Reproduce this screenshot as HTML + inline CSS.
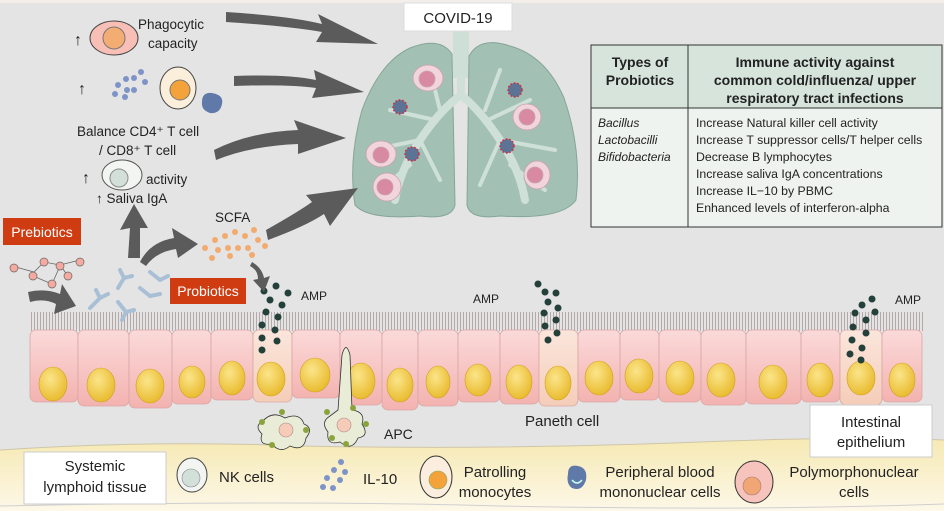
<!DOCTYPE html>
<html><head><meta charset="utf-8"><style>
body{margin:0;background:#fff}
svg{display:block}
text{font-family:"Liberation Sans",sans-serif;fill:#222}
</style></head><body>
<svg width="944" height="511" viewBox="0 0 944 511" xmlns="http://www.w3.org/2000/svg">
<defs>
<radialGradient id="nuc" cx="0.4" cy="0.35" r="0.7"><stop offset="0" stop-color="#fbe58a"/><stop offset="1" stop-color="#e8b92a"/></radialGradient>
<linearGradient id="cell" x1="0" y1="0" x2="0" y2="1"><stop offset="0" stop-color="#fbdada"/><stop offset="1" stop-color="#f3b3b0"/></linearGradient>
<linearGradient id="pan" x1="0" y1="0" x2="0" y2="1"><stop offset="0" stop-color="#fbe6dc"/><stop offset="1" stop-color="#f5cdb9"/></linearGradient>
<linearGradient id="band" x1="0" y1="0" x2="0" y2="1"><stop offset="0" stop-color="#f6e9b3"/><stop offset="1" stop-color="#fdf8e8"/></linearGradient>
<pattern id="villi" width="3" height="18" patternUnits="userSpaceOnUse"><line x1="1.5" y1="0" x2="1.5" y2="18" stroke="#a89898" stroke-width="0.8"/></pattern>
</defs>
<rect width="944" height="511" fill="#e4e4e4"/>
<rect x="0" y="0" width="944" height="3" fill="#f4eeea"/>

<path d="M0 450 Q150 440 300 446 Q500 450 700 442 Q850 436 944 440 L944 511 L0 511 Z" fill="url(#band)"/>
<path d="M0 450 Q150 440 300 446 Q500 450 700 442 Q850 436 944 440" fill="none" stroke="#cfc6a8" stroke-width="1"/>
<path d="M0 506 Q300 500 500 506 Q750 511 944 504" fill="none" stroke="#cfcfcf" stroke-width="1"/>

<rect x="30" y="312" width="895" height="19" fill="url(#villi)"/>

<g stroke="#d9a6a6" stroke-width="0.8">
<rect x="30" y="330" width="48" height="72" rx="6" fill="url(#cell)"/>
<rect x="78" y="330" width="51" height="76" rx="6" fill="url(#cell)"/>
<rect x="129" y="330" width="43" height="78" rx="6" fill="url(#cell)"/>
<rect x="172" y="330" width="39" height="74" rx="6" fill="url(#cell)"/>
<rect x="211" y="330" width="42" height="70" rx="6" fill="url(#cell)"/>
<rect x="253" y="330" width="39" height="72" rx="6" fill="url(#pan)"/>
<rect x="292" y="330" width="48" height="68" rx="6" fill="url(#cell)"/>
<rect x="340" y="330" width="42" height="75" rx="6" fill="url(#cell)"/>
<rect x="382" y="330" width="36" height="80" rx="6" fill="url(#cell)"/>
<rect x="418" y="330" width="40" height="76" rx="6" fill="url(#cell)"/>
<rect x="458" y="330" width="42" height="72" rx="6" fill="url(#cell)"/>
<rect x="500" y="330" width="39" height="74" rx="6" fill="url(#cell)"/>
<rect x="539" y="330" width="39" height="76" rx="6" fill="url(#pan)"/>
<rect x="578" y="330" width="42" height="72" rx="6" fill="url(#cell)"/>
<rect x="620" y="330" width="39" height="70" rx="6" fill="url(#cell)"/>
<rect x="659" y="330" width="42" height="72" rx="6" fill="url(#cell)"/>
<rect x="701" y="330" width="45" height="75" rx="6" fill="url(#cell)"/>
<rect x="746" y="330" width="55" height="74" rx="6" fill="url(#cell)"/>
<rect x="801" y="330" width="39" height="72" rx="6" fill="url(#cell)"/>
<rect x="840" y="330" width="42" height="75" rx="6" fill="url(#pan)"/>
<rect x="882" y="330" width="40" height="72" rx="6" fill="url(#cell)"/>
</g>
<g fill="url(#nuc)" stroke="#d0a020" stroke-width="0.6">
<ellipse cx="53" cy="384" rx="14" ry="17"/><ellipse cx="101" cy="385" rx="14" ry="17"/>
<ellipse cx="150" cy="386" rx="14" ry="17"/><ellipse cx="192" cy="382" rx="13" ry="16"/>
<ellipse cx="232" cy="378" rx="13" ry="17"/><ellipse cx="271" cy="379" rx="14" ry="17"/>
<ellipse cx="315" cy="375" rx="15" ry="17"/><ellipse cx="361" cy="381" rx="14" ry="18"/>
<ellipse cx="400" cy="385" rx="13" ry="17"/><ellipse cx="438" cy="382" rx="12" ry="16"/>
<ellipse cx="478" cy="380" rx="13" ry="16"/><ellipse cx="519" cy="382" rx="13" ry="17"/>
<ellipse cx="558" cy="383" rx="13" ry="17"/><ellipse cx="599" cy="378" rx="14" ry="17"/>
<ellipse cx="639" cy="376" rx="14" ry="17"/><ellipse cx="680" cy="378" rx="14" ry="17"/>
<ellipse cx="721" cy="380" rx="14" ry="17"/><ellipse cx="773" cy="382" rx="14" ry="17"/>
<ellipse cx="820" cy="380" rx="13" ry="17"/><ellipse cx="861" cy="378" rx="14" ry="17"/>
<ellipse cx="902" cy="380" rx="13" ry="17"/>
</g>

<g fill="#24403a">
<circle cx="264" cy="291" r="3.5"/><circle cx="276" cy="286" r="3.5"/><circle cx="288" cy="293" r="3.5"/><circle cx="270" cy="300" r="3.5"/><circle cx="282" cy="305" r="3.5"/><circle cx="266" cy="312" r="3.5"/><circle cx="278" cy="317" r="3.5"/><circle cx="262" cy="325" r="3.5"/><circle cx="275" cy="330" r="3.5"/><circle cx="262" cy="338" r="3.5"/><circle cx="277" cy="341" r="3.5"/><circle cx="262" cy="350" r="3.5"/>
<circle cx="538" cy="284" r="3.5"/><circle cx="545" cy="292" r="3.5"/><circle cx="556" cy="293" r="3.5"/><circle cx="548" cy="302" r="3.5"/><circle cx="558" cy="308" r="3.5"/><circle cx="544" cy="313" r="3.5"/><circle cx="556" cy="320" r="3.5"/><circle cx="545" cy="326" r="3.5"/><circle cx="557" cy="333" r="3.5"/><circle cx="548" cy="340" r="3.5"/>
<circle cx="872" cy="299" r="3.5"/><circle cx="862" cy="305" r="3.5"/><circle cx="875" cy="312" r="3.5"/><circle cx="855" cy="313" r="3.5"/><circle cx="866" cy="320" r="3.5"/><circle cx="853" cy="327" r="3.5"/><circle cx="866" cy="333" r="3.5"/><circle cx="852" cy="340" r="3.5"/><circle cx="862" cy="348" r="3.5"/><circle cx="850" cy="354" r="3.5"/><circle cx="861" cy="360" r="3.5"/>
</g>
<text x="301" y="300" font-size="12">AMP</text>
<text x="473" y="303" font-size="12">AMP</text>
<text x="895" y="304" font-size="12">AMP</text>

<g stroke="#333" stroke-width="0.8" fill="#e9edd8">
<path d="M262 422 Q272 410 285 418 Q300 412 304 424 Q314 428 306 438 Q304 452 290 446 Q280 454 272 444 Q258 446 262 434 Q254 426 262 422 Z"/>
<path d="M338 410 L342 355 Q346 340 350 355 L352 410 Q366 412 362 424 Q370 436 358 438 Q352 452 340 442 Q326 446 328 432 Q320 422 330 416 Z"/>
</g>
<circle cx="286" cy="430" r="7" fill="#f6cbb8" stroke="#a88" stroke-width="0.6"/>
<circle cx="344" cy="425" r="7" fill="#f6cbb8" stroke="#a88" stroke-width="0.6"/>
<g fill="#8aa33a"><circle cx="262" cy="422" r="3"/><circle cx="282" cy="412" r="3"/><circle cx="306" cy="430" r="3"/><circle cx="272" cy="445" r="3"/><circle cx="327" cy="412" r="3"/><circle cx="353" cy="408" r="3"/><circle cx="366" cy="424" r="3"/><circle cx="332" cy="438" r="3"/><circle cx="346" cy="444" r="3"/></g>
<text x="384" y="439" font-size="14">APC</text>
<text x="525" y="426" font-size="15">Paneth cell</text>

<rect x="810" y="405" width="122" height="52" fill="#fff" stroke="#ccc"/>
<text x="871" y="427" font-size="15" text-anchor="middle">Intestinal</text>
<text x="871" y="447" font-size="15" text-anchor="middle">epithelium</text>

<rect x="24" y="452" width="142" height="52" fill="#fff" stroke="#ccc"/>
<text x="95" y="471" font-size="15" text-anchor="middle">Systemic</text>
<text x="95" y="492" font-size="15" text-anchor="middle">lymphoid tissue</text>
<ellipse cx="192" cy="475" rx="15" ry="17" fill="#f2f5f1" stroke="#444" stroke-width="1"/>
<circle cx="191" cy="478" r="9" fill="#d3e0da" stroke="#888" stroke-width="0.6"/>
<text x="219" y="482" font-size="15">NK cells</text>
<g fill="#7e93c7"><circle cx="327" cy="478" r="3"/><circle cx="334" cy="470" r="3"/><circle cx="340" cy="480" r="3"/><circle cx="323" cy="487" r="3"/><circle cx="333" cy="488" r="3"/><circle cx="345" cy="472" r="3"/><circle cx="341" cy="462" r="3"/></g>
<text x="363" y="484" font-size="15">IL-10</text>
<ellipse cx="436" cy="477" rx="16" ry="21" fill="#fbeede" stroke="#333" stroke-width="1"/>
<circle cx="438" cy="480" r="9" fill="#f3a33a" stroke="#8a6" stroke-width="0.6"/>
<text x="495" y="477" font-size="15" text-anchor="middle">Patrolling</text>
<text x="495" y="497" font-size="15" text-anchor="middle">monocytes</text>
<path d="M568 474 Q568 464 578 466 Q588 468 586 480 Q582 492 572 488 Q566 484 568 474 Z" fill="#5f79a8"/>
<path d="M572 480 Q577 486 582 480" fill="none" stroke="#cfe" stroke-width="1.5"/>
<text x="660" y="477" font-size="15" text-anchor="middle">Peripheral blood</text>
<text x="660" y="497" font-size="15" text-anchor="middle">mononuclear cells</text>
<ellipse cx="754" cy="482" rx="19" ry="21" fill="#f7c4bd" stroke="#333" stroke-width="1"/>
<circle cx="752" cy="486" r="9" fill="#f1a774" stroke="#a77" stroke-width="0.6"/>
<text x="854" y="477" font-size="15" text-anchor="middle">Polymorphonuclear</text>
<text x="854" y="497" font-size="15" text-anchor="middle">cells</text>

<!-- lungs -->
<rect x="453" y="28" width="16" height="50" fill="#cddfd6"/>
<path d="M410 48 Q440 36 452 54 L455 205 Q452 220 420 216 Q368 220 355 205 Q348 160 362 110 Q380 62 410 48 Z" fill="#a2c1b4" stroke="#85a598"/>
<path d="M510 46 Q480 36 469 56 L467 205 Q470 220 500 216 Q562 220 576 200 Q582 150 564 98 Q546 56 510 46 Z" fill="#a2c1b4" stroke="#85a598"/>
<g stroke="#cfe0d8" fill="none" stroke-linecap="round">
<path d="M461 78 L461 95 Q440 110 420 140 Q400 170 395 200" stroke-width="8"/>
<path d="M461 95 Q480 110 500 140 Q520 170 525 200" stroke-width="8"/>
<path d="M435 120 L390 110 M420 140 L372 150 M410 165 L380 190 M440 110 L430 70 M420 140 L440 180 M488 120 L530 100 M500 140 L555 150 M510 165 L545 190 M485 110 L500 70 M500 140 L480 185" stroke-width="4"/>
</g>
<g stroke="#c9a2b0" stroke-width="0.8">
<ellipse cx="428" cy="78" rx="15" ry="13" fill="#f1d4dc"/><circle cx="427" cy="79" r="8" fill="#d98aa3"/>
<ellipse cx="381" cy="154" rx="15" ry="13" fill="#f1d4dc"/><circle cx="381" cy="155" r="8" fill="#d98aa3"/>
<ellipse cx="387" cy="187" rx="14" ry="14" fill="#f1d4dc"/><circle cx="385" cy="187" r="8" fill="#d98aa3"/>
<ellipse cx="527" cy="117" rx="14" ry="13" fill="#f1d4dc"/><circle cx="527" cy="117" r="8" fill="#d98aa3"/>
<ellipse cx="537" cy="175" rx="13" ry="14" fill="#f1d4dc"/><circle cx="535" cy="175" r="8" fill="#d98aa3"/>
</g>
<g fill="#5d7396" stroke="#d23" stroke-width="1.5" stroke-dasharray="1.5 2">
<circle cx="400" cy="107" r="7"/><circle cx="412" cy="154" r="7"/><circle cx="515" cy="90" r="7"/><circle cx="507" cy="146" r="7"/>
</g>
<rect x="404" y="3" width="108" height="28" fill="#fff" stroke="#ddd"/>
<text x="458" y="23" font-size="15" text-anchor="middle">COVID-19</text>

<!-- table -->
<rect x="591" y="45" width="351" height="182" fill="#eef3ef" stroke="#333"/>
<rect x="591" y="45" width="351" height="63" fill="#d6e4dc" stroke="#333"/>
<line x1="688" y1="45" x2="688" y2="227" stroke="#333"/>
<g font-size="14" font-weight="bold" text-anchor="middle">
<text x="640" y="67">Types of</text><text x="640" y="85">Probiotics</text>
<text x="815" y="67">Immune activity against</text><text x="815" y="85">common cold/influenza/ upper</text><text x="815" y="103">respiratory tract infections</text>
</g>
<g font-size="12" font-style="italic"><text x="598" y="127">Bacillus</text><text x="598" y="144">Lactobacilli</text><text x="598" y="161">Bifidobacteria</text></g>
<g font-size="12.3">
<text x="696" y="127">Increase Natural killer cell activity</text>
<text x="696" y="144">Increase T suppressor cells/T helper cells</text>
<text x="696" y="161">Decrease B lymphocytes</text>
<text x="696" y="178">Increase saliva IgA concentrations</text>
<text x="696" y="195">Increase IL−10 by PBMC</text>
<text x="696" y="212">Enhanced levels of interferon-alpha</text>
</g>

<g font-size="13.5">
<text x="74" y="45" font-size="16">↑</text>
<text x="138" y="29">Phagocytic</text><text x="148" y="48">capacity</text>
<text x="78" y="94" font-size="16">↑</text>
<text x="77" y="136">Balance CD4⁺ T cell</text>
<text x="99" y="155">/ CD8⁺ T cell</text>
<text x="82" y="183" font-size="16">↑</text>
<text x="146" y="184">activity</text>
<text x="96" y="203">↑ Saliva IgA</text>
<text x="215" y="222">SCFA</text>
</g>
<ellipse cx="114" cy="38" rx="24" ry="17" fill="#f7bfb6" stroke="#444"/>
<circle cx="114" cy="38" r="11" fill="#f3ad72" stroke="#777"/>
<ellipse cx="178" cy="88" rx="18" ry="21" fill="#fbefdc" stroke="#444"/>
<circle cx="180" cy="90" r="10" fill="#f3a33a" stroke="#777"/>
<path d="M202 102 Q202 92 212 93 Q224 95 222 104 Q220 114 210 113 Q201 110 202 102 Z" fill="#5f79a8"/>
<g fill="#7e93c7"><circle cx="118" cy="85" r="3"/><circle cx="126" cy="79" r="3"/><circle cx="134" cy="78" r="3"/><circle cx="141" cy="72" r="3"/><circle cx="145" cy="82" r="3"/><circle cx="127" cy="90" r="3"/><circle cx="134" cy="90" r="3"/><circle cx="115" cy="94" r="3"/><circle cx="125" cy="97" r="3"/></g>
<ellipse cx="122" cy="175" rx="20" ry="15" fill="#f2f5f1" stroke="#555"/>
<circle cx="119" cy="178" r="9" fill="#d3e0da" stroke="#888"/>
<g fill="#f2ab6e"><circle cx="215" cy="240" r="3"/><circle cx="225" cy="236" r="3"/><circle cx="235" cy="232" r="3"/><circle cx="245" cy="236" r="3"/><circle cx="254" cy="230" r="3"/><circle cx="205" cy="248" r="3"/><circle cx="218" cy="250" r="3"/><circle cx="228" cy="248" r="3"/><circle cx="238" cy="248" r="3"/><circle cx="248" cy="248" r="3"/><circle cx="258" cy="240" r="3"/><circle cx="265" cy="246" r="3"/><circle cx="230" cy="256" r="3"/><circle cx="252" cy="255" r="3"/><circle cx="212" cy="258" r="3"/></g>

<!-- arrows -->
<g fill="#5b5b5b">
<path d="M226 12 Q290 16 322 24 L318 14 L378 44 L316 42 L322 32 Q288 26 226 22 Z"/>
<path d="M234 76 Q288 74 316 80 L314 70 L364 92 L312 98 L316 88 Q288 84 234 86 Z"/>
<path d="M214 150 Q250 132 298 130 L294 120 L346 138 L298 154 L298 144 Q250 146 216 160 Z"/>
<path d="M266 230 Q298 212 312 202 L306 195 L358 188 L330 226 L324 214 Q306 226 268 240 Z"/>
<path d="M128 258 L130 228 L120 230 L134 204 L148 228 L140 228 L140 258 Z"/>
<path d="M140 262 Q150 242 174 238 L172 228 L198 244 L178 258 L176 249 Q156 252 146 266 Z"/>
<path d="M28 292 Q45 288 60 294 L62 284 L76 306 L54 314 L56 304 Q44 298 30 302 Z"/>
<path d="M252 262 Q262 268 264 278 L270 276 L264 292 L253 280 L258 279 Q258 270 250 266 Z"/>
</g>

<!-- prebiotic molecules -->
<g stroke="#666" stroke-width="0.8" fill="none">
<path d="M12 266 L34 272 L44 262 L60 265 L80 260 M33 276 L52 284 L60 266 M60 265 L68 276"/>
</g>
<g stroke="#666" stroke-width="0.7" fill="#f5aa9f">
<circle cx="14" cy="268" r="4"/><circle cx="33" cy="276" r="4"/><circle cx="44" cy="262" r="4"/><circle cx="52" cy="284" r="4"/><circle cx="60" cy="266" r="4"/><circle cx="68" cy="276" r="4"/><circle cx="80" cy="262" r="4"/>
</g>
<g stroke="#a9bfd5" stroke-width="4" stroke-linecap="round" fill="none">
<path d="M90 308 L100 298 M100 298 L96 290 M100 298 L108 294"/>
<path d="M118 288 L124 278 M124 278 L120 270 M124 278 L132 276"/>
<path d="M118 302 L126 312 M126 312 L122 320 M126 312 L134 310"/>
<path d="M140 288 L150 296 M150 296 L160 294"/>
<path d="M150 272 L160 280 M160 280 L168 276"/>
</g>
<rect x="3" y="218" width="78" height="27" fill="#d03c12"/>
<text x="42" y="237" font-size="14" text-anchor="middle" style="fill:#fff">Prebiotics</text>
<rect x="170" y="278" width="76" height="26" fill="#d03c12"/>
<text x="208" y="296" font-size="14" text-anchor="middle" style="fill:#fff">Probiotics</text>
</svg>
</body></html>
